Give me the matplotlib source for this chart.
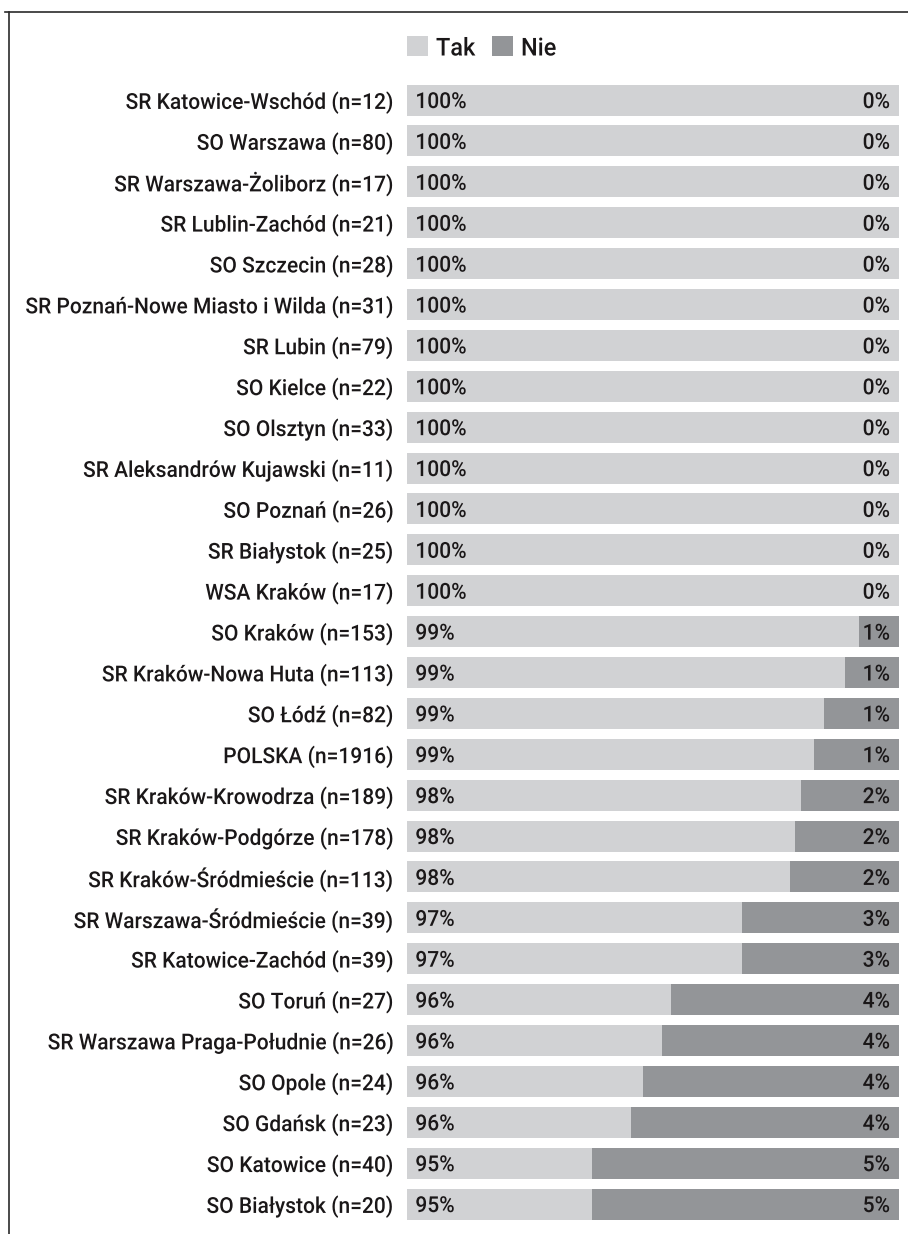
import matplotlib
matplotlib.use("Agg")
import matplotlib.pyplot as plt
from matplotlib.patches import Rectangle
from matplotlib.lines import Line2D
from matplotlib.patheffects import AbstractPathEffect
from matplotlib.transforms import Affine2D
from matplotlib.textpath import TextPath
from matplotlib.font_manager import FontProperties

FONT = ['Roboto', 'DejaVu Sans']
WEIGHT = 'medium'
plt.rcParams['font.family'] = FONT
plt.rcParams['font.weight'] = WEIGHT

categories = [
    "SR Katowice-Wschód (n=12)",
    "SO Warszawa (n=80)",
    "SR Warszawa-Żoliborz (n=17)",
    "SR Lublin-Zachód (n=21)",
    "SO Szczecin (n=28)",
    "SR Poznań-Nowe Miasto i Wilda (n=31)",
    "SR Lubin (n=79)",
    "SO Kielce (n=22)",
    "SO Olsztyn (n=33)",
    "SR Aleksandrów Kujawski (n=11)",
    "SO Poznań (n=26)",
    "SR Białystok (n=25)",
    "WSA Kraków (n=17)",
    "SO Kraków (n=153)",
    "SR Kraków-Nowa Huta (n=113)",
    "SO Łódź (n=82)",
    "POLSKA (n=1916)",
    "SR Kraków-Krowodrza (n=189)",
    "SR Kraków-Podgórze (n=178)",
    "SR Kraków-Śródmieście (n=113)",
    "SR Warszawa-Śródmieście (n=39)",
    "SR Katowice-Zachód (n=39)",
    "SO Toruń (n=27)",
    "SR Warszawa Praga-Południe (n=26)",
    "SO Opole (n=24)",
    "SO Gdańsk (n=23)",
    "SO Katowice (n=40)",
    "SO Białystok (n=20)",
]

tak = [100, 100, 100, 100, 100, 100, 100, 100, 100, 100, 100, 100, 100,
       99.35, 99.12, 98.78, 98.61, 98.41, 98.31, 98.23, 97.44, 97.44,
       96.30, 96.15, 95.83, 95.65, 95.0, 95.0]
nie = [0, 0, 0, 0, 0, 0, 0, 0, 0, 0, 0, 0, 0,
       0.65, 0.88, 1.22, 1.39, 1.59, 1.69, 1.77, 2.56, 2.56,
       3.70, 3.85, 4.17, 4.35, 5.0, 5.0]
tak_labels = ["100%"] * 13 + ["99%"] * 4 + ["98%"] * 3 + ["97%"] * 2 + ["96%"] * 4 + ["95%"] * 2
nie_labels = ["0%"] * 13 + ["1%"] * 4 + ["2%"] * 3 + ["3%"] * 2 + ["4%"] * 4 + ["5%"] * 2
series_names = ["Tak", "Nie"]

c_tak = "#D1D2D4"
c_nie = "#939598"
txt = "#1A1718"

W, H = 908, 1234
DPI = 100

# font size: as large as the original (~16.5pt) while the widest label's box still fits the canvas
_fp = FontProperties(family=FONT, weight=WEIGHT)
_longest = max(categories, key=lambda s: TextPath((0, 0), s, size=10, prop=_fp).get_extents().width)
_w10 = TextPath((0, 0), _longest, size=10, prop=_fp).get_extents().width  # px at 10px em
FS = min(16.5, 384.0 / _w10 * 10 * 72 / DPI)
_w = _w10 * (FS * DPI / 72) / 10
SX = min(1.0, 366.0 / _w)  # condense glyphs so the longest label is ~366 px wide


class Squeeze(AbstractPathEffect):
    """Condense glyphs horizontally, keeping the anchored edge in place."""
    def __init__(self, sx, anchor='left'):
        super().__init__()
        self.sx = sx
        self.anchor = anchor

    def draw_path(self, renderer, gc, tpath, affine, rgbFace=None):
        if self.anchor == 'right':
            x0 = tpath.get_extents().x1
        else:
            x0 = 0.0
        t = Affine2D().translate(-x0, 0).scale(self.sx, 1).translate(x0, 0) + affine
        renderer.draw_path(gc, tpath, t, rgbFace)


sq_left = [Squeeze(SX, 'left')]
sq_right = [Squeeze(SX, 'right')]

fig = plt.figure(figsize=(W / DPI, H / DPI), dpi=DPI)
fig.patch.set_facecolor("white")

ax_left, ax_right = 407 / W, 899 / W
ax_top, ax_bot = 79.6 / H, 1224.5 / H
ax = fig.add_axes([ax_left, 1 - ax_bot, ax_right - ax_left, ax_bot - ax_top])

ys = list(range(len(categories)))
ax.barh(ys, tak, left=0, height=0.76, color=c_tak, linewidth=0)
ax.barh(ys, nie, left=tak, height=0.76, color=c_nie, linewidth=0)

ax.set_xlim(92, 100)
ax.set_ylim(len(categories) - 0.5, -0.5)
ax.set_yticks(ys)
ax.set_yticklabels(categories, fontsize=FS, color=txt, fontweight=WEIGHT)
for t in ax.get_yticklabels():
    t.set_path_effects(sq_right)
ax.tick_params(axis='y', length=0, pad=10)
ax.set_xticks([])
for s in ax.spines.values():
    s.set_visible(False)

for y, tl, nl in zip(ys, tak_labels, nie_labels):
    ax.annotate(tl, xy=(92, y), xytext=(6, 0), textcoords='offset points',
                ha='left', va='center_baseline', fontsize=FS, color=txt,
                fontweight=WEIGHT, path_effects=sq_left)
    ax.annotate(nl, xy=(100, y), xytext=(-6.5, 0), textcoords='offset points',
                ha='right', va='center_baseline', fontsize=FS, color=txt,
                fontweight=WEIGHT, path_effects=sq_right)

# legend
for x0, name, col in [(407, series_names[0], c_tak), (492, series_names[1], c_nie)]:
    fig.add_artist(Rectangle((x0 / W, 1 - 56 / H), 21 / W, 20 / H,
                             transform=fig.transFigure, color=col, linewidth=0))
    fig.text((x0 + 29) / W, 1 - 46 / H, name, ha='left', va='center_baseline',
             fontsize=FS * 1.12, color=txt, fontweight=WEIGHT, path_effects=sq_left)

# frame lines
fig.add_artist(Line2D([5 / W, 1.0], [1 - 11.5 / H, 1 - 11.5 / H],
                      transform=fig.transFigure, color="#2a2a2a", linewidth=1.2))
fig.add_artist(Line2D([9.3 / W, 9.3 / W], [1 - 11.5 / H, 0],
                      transform=fig.transFigure, color="#2a2a2a", linewidth=1.2))

fig.savefig("out.png", dpi=DPI, facecolor="white")
